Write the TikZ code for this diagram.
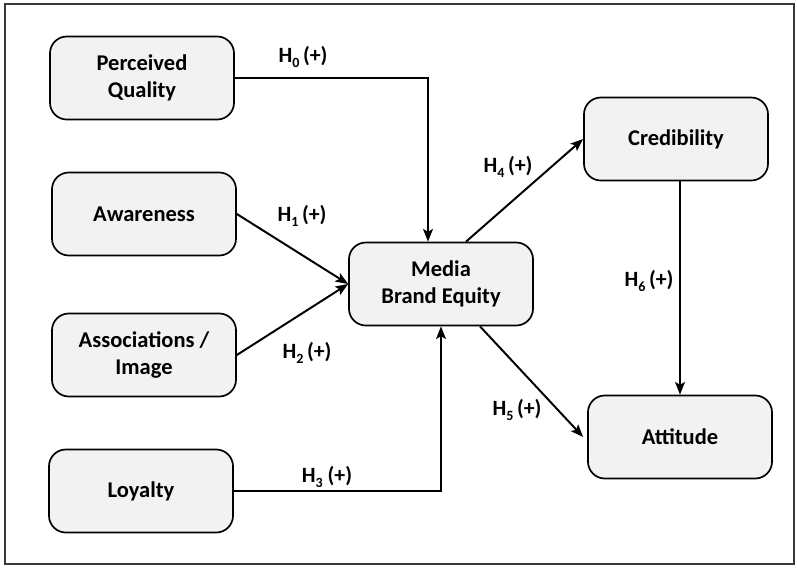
\documentclass[tikz,border=0pt]{standalone}
\usepackage{fontspec}
\setmainfont{Carlito}
\usetikzlibrary{positioning}
\usetikzlibrary{calc}
\usetikzlibrary{arrows.meta}
\definecolor{boxfill}{HTML}{F2F2F2}
\definecolor{framegray}{HTML}{3A3A3A}
\newcommand\hsub[1]{H\raisebox{-0.45ex}{\fontsize{10}{10}\selectfont #1}}
\tikzset{
	construct/.style={
		draw,
		fill=boxfill,
		rounded corners=12,
		line width=1.2pt,
		minimum width=4.6cm,
		minimum height=2.075cm,
		align=center,
		font=\fontsize{16}{19.5}\selectfont\bfseries
	},
	hyp/.style={
		font=\fontsize{15.5}{18}\selectfont\bfseries,
		inner sep=0pt
	},
	link/.style={
		line width=1.4pt,
		-{Stealth[length=9pt,width=7pt,inset=2pt]}
	}
}

\begin{document}
\begin{tikzpicture} [x=0.025cm, y=-0.025cm]
	\useasboundingbox (0,0) rectangle (797,568);
	\draw [framegray, line width=1.4pt] (5,4) rectangle (794,564);

	\node [construct] (quality) at (142,78) {Perceived\\Quality};
	\node [construct] (awareness) at (144,214) {Awareness};
	\node [construct] (image) at (144,355) {Associations /\\Image};
	\node [construct] (loyalty) at (141,491) {Loyalty};
	\node [construct] (equity) at (441,284) {Media\\Brand Equity};
	\node [construct] (credibility) at (676,139) {Credibility};
	\node [construct] (attitude) at (680,437) {Attitude};

	\draw [link] (quality.east) -| ($(equity.north)+(-13,0)$);
	\draw [link] (awareness.east) -- (equity.west);
	\draw [link] (image.east) -- (equity.west);
	\draw [link] (loyalty.east) -| (equity.south);
	\draw [link] ($(equity.north)+(25,0)$) -- (credibility.west);
	\draw [link] ($(equity.south)+(39,0)$) -- ($(attitude.west)+(-4,0)$);
	\draw [link] (attitude.north |- credibility.south) -- (attitude.north);

	\node [hyp] (h0) at (303,57) {\hsub{0}\,(+)};
	\node [hyp] (h1) at (302,216) {\hsub{1}\,(+)};
	\node [hyp] (h2) at (307,353) {\hsub{2}\,(+)};
	\node [hyp] (h3) at (327,477) {\hsub{3}\ (+)};
	\node [hyp] (h4) at (508,167) {\hsub{4}\,(+)};
	\node [hyp] (h5) at (517,410) {\hsub{5}\,(+)};
	\node [hyp] (h6) at (649,281) {\hsub{6}\,(+)};
\end{tikzpicture}
\end{document}
